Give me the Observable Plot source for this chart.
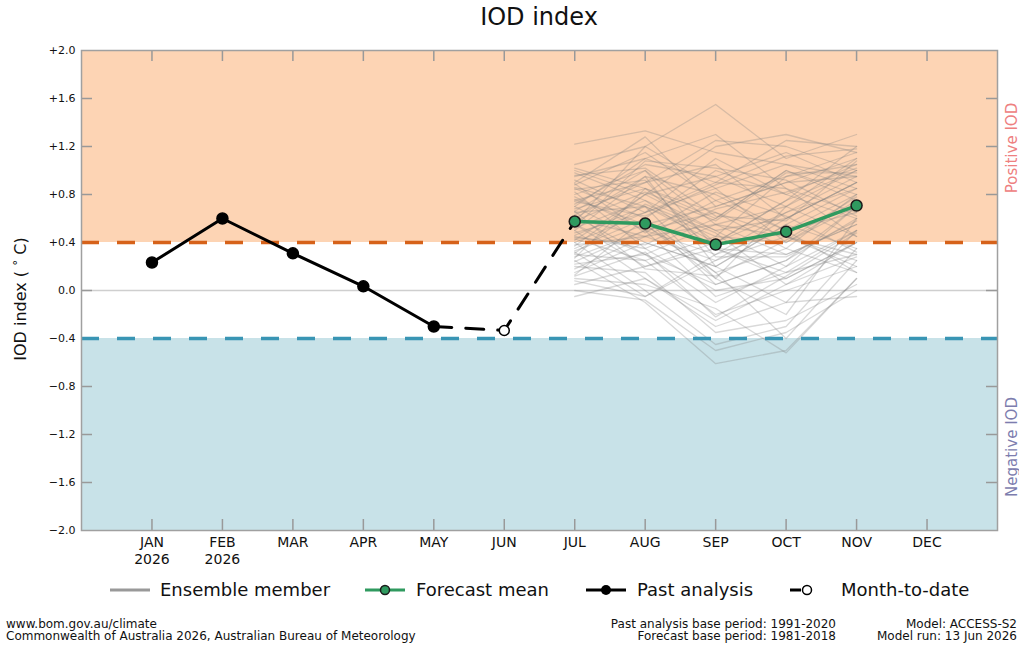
<!DOCTYPE html>
<html>
<head>
<meta charset="utf-8">
<script src="https://cdn.jsdelivr.net/npm/d3@7"></script>
<script src="https://cdn.jsdelivr.net/npm/@observablehq/plot@0.6"></script>
<style>
  html, body { margin: 0; padding: 0; background: #fff; }
  #wrap { position: relative; width: 1019px; height: 646px; overflow: hidden; font-family: "DejaVu Sans", sans-serif; color: #111; }
  #wrap svg.plot { position: absolute; left: 0; top: 0; }
  .abs { position: absolute; white-space: nowrap; }
  .title { left: 0; width: 1078px; top: 3px; text-align: center; font-size: 24px; line-height: 28px; }
  .ylab { left: 20px; top: 299px; transform: translate(-50%, -50%) rotate(-90deg); font-size: 16px; }
  .side { left: 1012px; transform: translate(-50%, -50%) rotate(-90deg); font-size: 15px; line-height: 17px; }
  .leg { top: 579px; font-size: 18px; line-height: 22px; }
  .foot { font-size: 12px; line-height: 12px; top: 618px; }
</style>
</head>
<body>
<div id="wrap"></div>
<script>
// ---------- data ----------
const months = ["JAN","FEB","MAR","APR","MAY","JUN","JUL","AUG","SEP","OCT","NOV","DEC"];
const monthLabels = ["JAN\n2026","FEB\n2026","MAR","APR","MAY","JUN","JUL","AUG","SEP","OCT","NOV","DEC"];
const pastMonths = ["JAN","FEB","MAR","APR","MAY"];
const pastValues = [0.233, 0.600, 0.310, 0.035, -0.300];
const mtdMonths = ["JUN"];
const mtdValues = [-0.333];
const forecastMonths = ["JUL","AUG","SEP","OCT","NOV"];
const forecastMean = [0.575, 0.558, 0.383, 0.490, 0.708];
const ensembleMembers = [
  [1.22, 1.33, 1.15, 1.05, 0.95],
  [1.05, 1.20, 1.55, 1.10, 1.30],
  [0.95, 1.10, 0.90, 1.25, 1.20],
  [1.00, 0.80, 1.20, 1.30, 1.15],
  [0.90, 1.28, 0.70, 0.90, 1.10],
  [0.85, 0.60, 1.00, 0.80, 1.05],
  [0.80, 1.00, 0.55, 0.70, 1.00],
  [0.78, 0.50, 0.30, 0.65, 0.95],
  [0.75, 0.90, 1.05, 0.60, 0.90],
  [0.70, 0.40, 0.20, 0.55, 0.85],
  [0.68, 0.85, 0.60, 1.00, 0.80],
  [0.65, 0.70, 0.45, 0.40, 0.75],
  [0.62, 0.30, -0.10, 0.20, 0.70],
  [0.60, 0.95, 0.80, 0.50, 0.65],
  [0.58, 0.55, 0.10, -0.20, 0.60],
  [0.55, 0.20, 0.40, 0.75, 1.20],
  [0.52, 0.75, 0.35, 0.30, 0.55],
  [0.50, 0.10, -0.30, -0.10, 0.50],
  [0.48, 0.65, 0.90, 0.85, 0.45],
  [0.45, 0.35, 0.00, 0.10, 0.40],
  [0.42, 0.80, 0.50, 0.60, 0.90],
  [0.40, 0.00, -0.45, -0.30, 0.35],
  [0.38, 0.45, 0.25, 0.45, 0.30],
  [0.35, 0.60, 0.15, -0.40, 0.25],
  [0.32, -0.05, 0.30, 0.50, 0.80],
  [0.30, 0.25, -0.20, 0.00, 0.20],
  [0.28, 0.50, 0.65, 0.35, 0.15],
  [0.25, -0.10, -0.61, -0.50, 0.10],
  [0.22, 0.30, 0.05, 0.25, 0.60],
  [0.20, 0.15, -0.35, -0.25, 0.05],
  [0.15, 0.40, 0.20, -0.10, -0.05],
  [0.10, 0.05, -0.15, -0.52, 0.10],
  [0.05, 0.20, 0.35, 0.15, 0.30],
  [0.00, -0.08, -0.50, -0.35, 0.00],
  [-0.05, 0.10, -0.25, 0.05, 0.40],
  [0.88, 1.15, 0.75, 0.95, 1.05],
  [0.72, 1.05, 0.95, 1.15, 0.90],
  [0.98, 0.75, 0.50, 0.20, 0.50],
  [0.92, 0.65, 1.10, 0.80, 0.60],
  [0.63, 0.90, 1.25, 1.20, 1.00],
  [0.57, 1.20, 0.85, 0.40, 0.70],
  [0.46, 0.70, 0.10, 0.70, 1.10],
  [0.33, 0.55, 0.70, 0.90, 0.95],
  [0.27, 0.85, 0.40, 0.65, 0.85],
  [0.18, 0.45, 0.55, 0.30, 0.55],
  [0.82, 0.35, 0.60, 1.00, 0.75],
  [0.70, 1.10, 1.30, 0.85, 0.65],
  [0.50, 0.95, 0.20, 0.55, 0.35],
  [0.43, 0.25, 0.45, 0.95, 1.15],
  [0.37, 0.80, 0.95, 0.70, 0.45],
  [1.02, 0.85, 0.65, 0.45, 0.25],
  [0.13, 0.60, 0.05, 0.25, 0.70],
  [0.08, -0.05, 0.25, 0.60, 0.90],
  [0.24, 0.50, -0.05, 0.15, 0.50],
  [0.60, 0.45, 0.75, 0.50, 0.15],
  [0.66, 1.00, 0.35, 0.10, 0.40],
  [0.76, 0.55, 0.15, 0.35, 0.80],
  [0.86, 0.70, 0.40, 0.75, 1.00],
  [0.55, 0.30, 0.55, 0.45, 0.20],
  [0.40, 0.65, 0.85, 1.05, 0.85],
  [0.96, 1.02, 0.62, 0.58, 1.08],
  [0.74, 0.62, 0.88, 1.12, 1.18],
  [0.53, 1.08, 1.02, 0.92, 0.62],
  [0.84, 0.92, 0.28, 0.28, 0.58],
  [0.44, 0.38, 0.68, 0.82, 1.02],
  [0.31, 0.72, 0.48, 0.05, 0.28],
  [0.66, 0.18, 0.12, 0.42, 0.78],
  [0.89, 0.48, 0.82, 0.62, 0.32],
  [0.12, 0.32, -0.22, 0.12, 0.48],
  [0.58, 0.82, 0.58, 0.98, 0.98]
];
const yTicks = [-2.0, -1.6, -1.2, -0.8, -0.4, 0.0, 0.4, 0.8, 1.2, 1.6, 2.0];
const yTickLabels = ["\u22122.0","\u22121.6","\u22121.2","\u22120.8","\u22120.4","0.0","+0.4","+0.8","+1.2","+1.6","+2.0"];
const positiveThreshold = 0.4;
const negativeThreshold = -0.4;

// ---------- derived tables ----------
const mi = m => months.indexOf(m);
const past = pastMonths.map((m, i) => ({x: mi(m), y: pastValues[i]}));
const mtd = mtdMonths.map((m, i) => ({x: mi(m), y: mtdValues[i]}));
const fc = forecastMonths.map((m, i) => ({x: mi(m), y: forecastMean[i]}));
const ens = ensembleMembers.flatMap((vals, k) => vals.map((v, i) => ({member: k, x: mi(forecastMonths[i]), y: v})));
const bridge = [past[past.length - 1], ...mtd, fc[0]];
const xMin = -1, xMax = 12, yMin = -2, yMax = 2;
const W = 1019, H = 646, mL = 81, mR = 22, mT = 50, mB = 116;
const xPx = (xMax - xMin) / (W - mL - mR);   // data units per pixel
const yPx = (yMax - yMin) / (H - mT - mB);
const tickLen = 11;
const monthIdx = months.map((m, i) => i);
const innerYTicks = yTicks.filter(v => v > yMin && v < yMax);

const green = "#2f9a5f";
const chart = Plot.plot({
  width: W, height: H,
  marginLeft: mL, marginRight: mR, marginTop: mT, marginBottom: mB,
  x: {type: "linear", domain: [xMin, xMax]},
  y: {type: "linear", domain: [yMin, yMax]},
  style: {fontFamily: "'DejaVu Sans', sans-serif", color: "#111", background: "transparent"},
  marks: [
    Plot.rect([{y1: positiveThreshold, y2: yMax}], {x1: xMin, x2: xMax, y1: "y1", y2: "y2", fill: "#fdd4b4"}),
    Plot.rect([{y1: yMin, y2: negativeThreshold}], {x1: xMin, x2: xMax, y1: "y1", y2: "y2", fill: "#c8e2e8"}),
    Plot.ruleY([0], {stroke: "#cfcfcf", strokeWidth: 1.5}),
    // inward ticks
    Plot.ruleY(innerYTicks, {x1: xMin, x2: xMin + tickLen * xPx, stroke: "#999", strokeWidth: 1.5}),
    Plot.ruleY(innerYTicks, {x1: xMax - tickLen * xPx, x2: xMax, stroke: "#999", strokeWidth: 1.5}),
    Plot.ruleX(monthIdx, {y1: yMax, y2: yMax - tickLen * yPx, stroke: "#999", strokeWidth: 1.5}),
    Plot.ruleX(monthIdx, {y1: yMin, y2: yMin + tickLen * yPx, stroke: "#999", strokeWidth: 1.5}),
    // ensemble
    Plot.line(ens, {x: "x", y: "y", z: "member", stroke: "#808080", strokeOpacity: 0.3, strokeWidth: 1.3}),
    Plot.ruleY([positiveThreshold], {stroke: "#d6621a", strokeWidth: 3.5, strokeDasharray: "18,18"}),
    Plot.ruleY([negativeThreshold], {stroke: "#3995b4", strokeWidth: 3.5, strokeDasharray: "18,18"}),
    // month-to-date bridge
    Plot.line(bridge, {x: "x", y: "y", stroke: "#000", strokeWidth: 3, strokeDasharray: "18,14"}),
    // past analysis
    Plot.line(past, {x: "x", y: "y", stroke: "#000", strokeWidth: 3}),
    Plot.dot(past, {x: "x", y: "y", r: 5.5, fill: "#000", stroke: "#000"}),
    // forecast mean
    Plot.line(fc, {x: "x", y: "y", stroke: green, strokeWidth: 3.5}),
    Plot.dot(fc, {x: "x", y: "y", r: 5.5, fill: green, stroke: "#1b1b1b", strokeWidth: 1.5}),
    // month-to-date
    Plot.dot(mtd, {x: "x", y: "y", r: 5, fill: "#fff", stroke: "#000", strokeWidth: 1.5}),
    Plot.frame({stroke: "#a0a0a0", strokeWidth: 1.5}),
    Plot.axisY(yTicks, {tickSize: 0, tickPadding: 6, fontSize: 11, tickFormat: d => yTickLabels[yTicks.indexOf(d)], label: null}),
    Plot.axisX(monthIdx, {tickSize: 0, tickPadding: 5, fontSize: 14, lineHeight: 1.2, tickFormat: i => monthLabels[i], label: null})
  ]
});
chart.classList.add("plot");
const wrap = document.getElementById("wrap");
wrap.appendChild(chart);

function addDiv(cls, html, style) {
  const d = document.createElement("div");
  d.className = "abs " + cls;
  d.innerHTML = html;
  Object.assign(d.style, style || {});
  wrap.appendChild(d);
  return d;
}
addDiv("title", "IOD index");
addDiv("ylab", "IOD index ( <span style=\"font-size:12px;vertical-align:4px\">\u00b0</span> C)");
addDiv("side", "Positive IOD", {top: "148px", color: "#ee8080"});
addDiv("side", "Negative IOD", {top: "447px", color: "#7d7dae"});

// legend
const legendItems = [
  {label: "Ensemble member", x: 110, sym: `<line x1="0" x2="40" y1="8" y2="8" stroke="#999" stroke-width="3"/>`},
  {label: "Forecast mean", x: 365, sym: `<line x1="0" x2="40" y1="8" y2="8" stroke="${green}" stroke-width="3"/><circle cx="20" cy="8" r="4.5" fill="${green}" stroke="#1b1b1b" stroke-width="1.5"/>`},
  {label: "Past analysis", x: 586, sym: `<line x1="0" x2="40" y1="8" y2="8" stroke="#000" stroke-width="3"/><circle cx="20" cy="8" r="5" fill="#000"/>`},
  {label: "Month-to-date", x: 787, sym: `<line x1="3" x2="14" y1="8" y2="8" stroke="#000" stroke-width="3"/><circle cx="20" cy="8" r="4.5" fill="#fff" stroke="#000" stroke-width="1.5"/>`}
];
const textX = [160, 416, 637, 841];
legendItems.forEach((it, i) => {
  const s = document.createElementNS("http://www.w3.org/2000/svg", "svg");
  s.setAttribute("width", 44); s.setAttribute("height", 16);
  s.style.position = "absolute"; s.style.left = it.x + "px"; s.style.top = "582px";
  s.innerHTML = it.sym;
  wrap.appendChild(s);
  addDiv("leg", it.label, {left: textX[i] + "px"});
});

// footer
addDiv("foot", "www.bom.gov.au/climate<br>Commonwealth of Australia 2026, Australian Bureau of Meteorology", {left: "6px"});
addDiv("foot", "Past analysis base period: 1991-2020<br>Forecast base period: 1981-2018", {right: (W - 836) + "px", textAlign: "right"});
addDiv("foot", "Model: ACCESS-S2<br>Model run: 13 Jun 2026", {right: "2px", textAlign: "right"});
</script>
</body>
</html>
